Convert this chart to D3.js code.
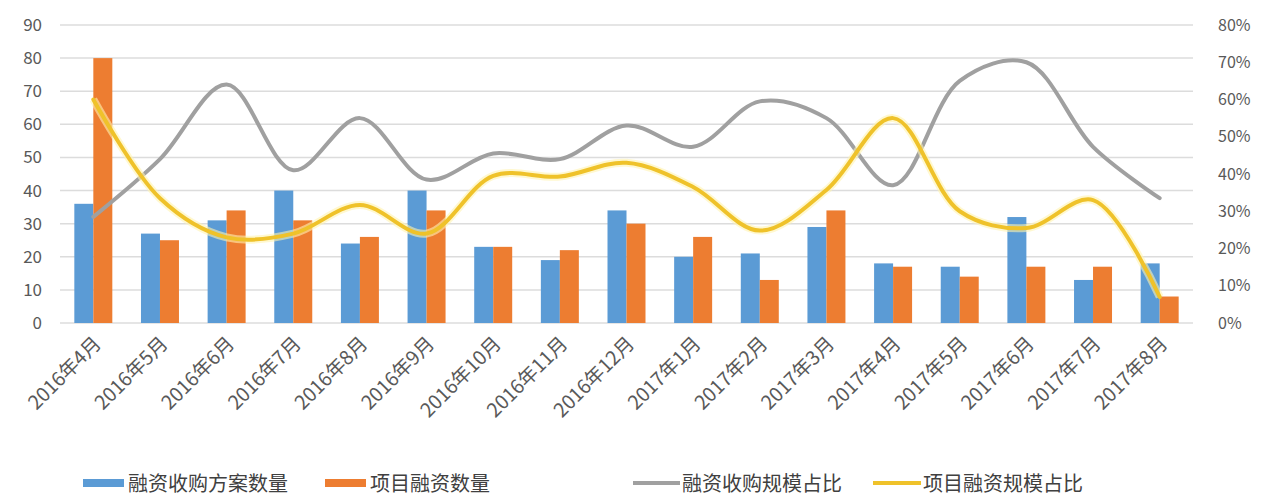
<!DOCTYPE html>
<html><head><meta charset="utf-8">
<script src="https://cdn.jsdelivr.net/npm/d3@7"></script>
<style>
html,body{margin:0;padding:0;background:#fff;}
text{font-family:"Noto Sans CJK SC","Noto Sans",sans-serif;}
</style></head>
<body><svg id="c" width="1261" height="499"></svg>
<script>
const categories = ["2016年4月","2016年5月","2016年6月","2016年7月","2016年8月","2016年9月","2016年10月","2016年11月","2016年12月","2017年1月","2017年2月","2017年3月","2017年4月","2017年5月","2017年6月","2017年7月","2017年8月"];
const buyoutCount = [36,27,31,40,24,40,23,19,34,20,21,29,18,17,32,13,18];
const projectCount = [80,25,34,31,26,34,23,22,30,26,13,34,17,14,17,17,8];
const buyoutShare = [0.285,0.44,0.64,0.41,0.55,0.385,0.455,0.44,0.53,0.473,0.595,0.55,0.37,0.65,0.70,0.473,0.335];
const projectShare = [0.60,0.335,0.23,0.24,0.317,0.24,0.395,0.393,0.43,0.365,0.248,0.357,0.55,0.30,0.255,0.33,0.07];
const leftTicks = [0,10,20,30,40,50,60,70,80,90];
const rightTicks = [0,0.1,0.2,0.3,0.4,0.5,0.6,0.7,0.8];
const seriesNames = ["融资收购方案数量","项目融资数量","融资收购规模占比","项目融资规模占比"];
const colors = ["#5b9bd5","#ed7d31","#a0a0a0","#efc22a"];

const svg = d3.select("#c");
const L = 60, R = 1193, T = 25, B = 323;
const x = d3.scaleBand().domain(categories).range([L, R]).paddingInner(0.43).paddingOuter(0.215);
const x1 = d3.scaleBand().domain([0,1]).range([0, x.bandwidth()]);
const yL = d3.scaleLinear().domain([0,90]).range([B, T]);
const yR = d3.scaleLinear().domain([0,0.8]).range([B, T]);

// gridlines
svg.append("g").selectAll("line").data(leftTicks).join("line")
  .attr("x1", L).attr("x2", R).attr("y1", d => yL(d)).attr("y2", d => yL(d))
  .attr("stroke", "#dcdcdc").attr("stroke-width", 1.5);

// left axis
const gl = svg.append("g").attr("transform", `translate(${L-18},0)`)
  .call(d3.axisLeft(yL).tickValues(leftTicks).tickSize(0).tickPadding(0));
gl.select(".domain").remove();
gl.selectAll("text").attr("font-size", 17).attr("fill", "#595959").attr("font-family","'Open Sans','Noto Sans',sans-serif");

// right axis
const gr = svg.append("g").attr("transform", `translate(${R+25},0)`)
  .call(d3.axisRight(yR).tickValues(rightTicks).tickSize(0).tickPadding(0).tickFormat(d3.format(".0%")));
gr.select(".domain").remove();
gr.selectAll("text").attr("font-size", 16).attr("fill", "#595959").attr("font-family","'Open Sans','Noto Sans',sans-serif");

// x axis labels
const gx = svg.append("g").attr("transform", `translate(0,${B})`)
  .call(d3.axisBottom(x).tickSize(0).tickPadding(0));
gx.select(".domain").remove();
gx.selectAll("text").attr("font-size", 19.5).attr("fill", "#595959")
  .attr("text-anchor", "end").attr("dy", 0)
  .attr("transform", "translate(9,22) rotate(-45)");

// bars
const bars = svg.append("g");
[buyoutCount, projectCount].forEach((vals, si) => {
  bars.append("g").selectAll("rect").data(vals).join("rect")
    .attr("x", (d,i) => x(categories[i]) + x1(si))
    .attr("width", x1.bandwidth())
    .attr("y", d => yL(d)).attr("height", d => B - yL(d))
    .attr("fill", colors[si]);
});

// lines
const mk = d3.line().x((d,i) => x(categories[i]) + x.bandwidth()/2).y(d => yR(d)).curve(d3.curveCatmullRom.alpha(0.5));
svg.append("path").attr("d", mk(buyoutShare)).attr("fill","none").attr("stroke", colors[2]).attr("stroke-width", 4).attr("stroke-linecap","round");
svg.append("path").attr("d", mk(projectShare)).attr("fill","none").attr("stroke", "#fff3b0").attr("stroke-opacity",0.6).attr("stroke-width", 8);
svg.append("path").attr("d", mk(projectShare)).attr("fill","none").attr("stroke", colors[3]).attr("stroke-width", 4).attr("stroke-linecap","round");

// legend
const leg = [
  {x:83, w:41, type:"rect", tx:128},
  {x:325, w:41, type:"rect", tx:370},
  {x:633, w:47, type:"line", tx:682},
  {x:873, w:48, type:"line", tx:923}
];
const lg = svg.append("g");
leg.forEach((l, i) => {
  if (l.type === "rect") lg.append("rect").attr("x", l.x).attr("y", 479).attr("width", l.w).attr("height", 8).attr("fill", colors[i]);
  else lg.append("line").attr("x1", l.x).attr("x2", l.x + l.w).attr("y1", 483).attr("y2", 483).attr("stroke", colors[i]).attr("stroke-width", 4);
  lg.append("text").attr("x", l.tx).attr("y", 486).attr("font-size", 20).attr("fill", "#404040")
    .attr("dominant-baseline","middle").text(seriesNames[i]);
});
</script></body></html>
